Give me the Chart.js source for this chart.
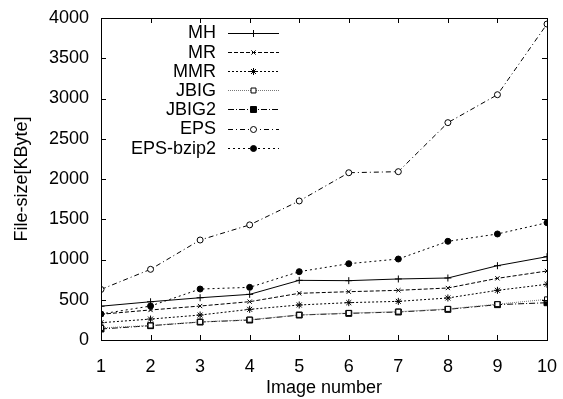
<!DOCTYPE html>
<html>
<head>
<meta charset="utf-8">
<script src="https://cdn.jsdelivr.net/npm/chart.js@4.4.0/dist/chart.umd.min.js"></script>
<style>
  html, body { margin: 0; padding: 0; background: #fff; }
  #wrap { width: 563px; height: 399px; }
</style>
</head>
<body>
<div id="wrap"><canvas id="sizeChart" width="563" height="399"></canvas></div>
<script>
const imageNumbers = [1, 2, 3, 4, 5, 6, 7, 8, 9, 10];
const yTicks = [0, 500, 1000, 1500, 2000, 2500, 3000, 3500, 4000];

const mhData       = [420, 475, 525, 567, 741, 737, 758, 770, 923, 1035];
const mrData       = [320, 373, 422, 476, 580, 600, 617, 646, 766, 857];
const mmrData      = [215, 260, 310, 381, 435, 464, 480, 522, 617, 692];
const jbigData     = [150, 180, 225, 252, 312, 335, 352, 386, 445, 505];
const jbig2Data    = [137, 178, 223, 248, 310, 331, 348, 381, 439, 463];
const epsData      = [628, 878, 1242, 1430, 1727, 2078, 2091, 2700, 3047, 3925];
const epsBzip2Data = [323, 422, 633, 654, 849, 948, 1006, 1226, 1317, 1457];

const FONT = "'Liberation Sans', Arial, sans-serif";

function series(label, data, dash, style, radius, filled, color) {
    return {
        label: label,
        data: data,
        borderColor: color || '#000',
        borderWidth: 1,
        borderDash: dash,
        pointStyle: style,
        pointRadius: radius,
        pointBorderWidth: 1,
        pointBorderColor: '#000',
        pointBackgroundColor: filled ? '#000' : '#fff',
        fill: false,
        tension: 0
    };
}

// gnuplot-like frame with inward ticks and right-aligned legend
const framePlugin = {
    id: 'frame',
    afterDraw(chart) {
        const ctx = chart.ctx;
        const a = chart.chartArea;
        const xs = chart.scales.x, ys = chart.scales.y;
        ctx.save();
        ctx.strokeStyle = '#000';
        ctx.lineWidth = 1;
        ctx.setLineDash([]);
        ctx.strokeRect(a.left + 0.5, a.top + 0.5, a.right - a.left, a.bottom - a.top);
        ctx.beginPath();
        imageNumbers.forEach(v => {
            const px = Math.round(xs.getPixelForValue(v)) + 0.5;
            ctx.moveTo(px, a.bottom); ctx.lineTo(px, a.bottom - 5);
            ctx.moveTo(px, a.top); ctx.lineTo(px, a.top + 5);
        });
        yTicks.forEach(v => {
            const py = Math.round(ys.getPixelForValue(v)) + 0.5;
            ctx.moveTo(a.left, py); ctx.lineTo(a.left + 5, py);
            ctx.moveTo(a.right, py); ctx.lineTo(a.right - 5, py);
        });
        ctx.stroke();

        // legend
        ctx.font = '18px ' + FONT;
        ctx.textAlign = 'right';
        ctx.textBaseline = 'middle';
        chart.data.datasets.forEach((ds, i) => {
            const y = 32.5 + i * 19.2;
            ctx.fillStyle = '#000';
            ctx.fillText(ds.label, 216, y + 1);
            ctx.strokeStyle = ds.borderColor;
            ctx.setLineDash(ds.borderDash);
            ctx.beginPath();
            ctx.moveTo(228, Math.round(y) + 0.5);
            ctx.lineTo(279, Math.round(y) + 0.5);
            ctx.stroke();
            ctx.setLineDash([]);
            ctx.strokeStyle = '#000';
            ctx.fillStyle = ds.pointBackgroundColor;
            Chart.helpers.drawPoint(ctx, {
                pointStyle: ds.pointStyle,
                radius: ds.pointRadius,
                rotation: 0,
                borderWidth: 1
            }, 253.5, Math.round(y) + 0.5);
        });
        ctx.restore();
    }
};

new Chart(document.getElementById('sizeChart').getContext('2d'), {
    type: 'line',
    data: {
        labels: imageNumbers,
        datasets: [
            series('MH', mhData, [], 'cross', 3.5, false),
            series('MR', mrData, [4, 2], 'crossRot', 3, false),
            series('MMR', mmrData, [2, 2], 'star', 3.5, false),
            series('JBIG', jbigData, [1, 1], 'rect', 3.5, false, '#777'),
            series('JBIG2', jbig2Data, [6, 2, 1, 2], 'rect', 4.2, true),
            series('EPS', epsData, [5, 3, 1, 3], 'circle', 3, false),
            series('EPS-bzip2', epsBzip2Data, [2, 3], 'circle', 3, true)
        ]
    },
    options: {
        responsive: false,
        animation: false,
        layout: { padding: { top: 18, right: 16, left: 11, bottom: 0 } },
        plugins: {
            legend: { display: false },
            tooltip: { enabled: false }
        },
        scales: {
            x: {
                type: 'linear',
                min: 1,
                max: 10,
                grid: { display: false, drawTicks: false },
                border: { display: false },
                afterBuildTicks: s => { s.ticks = imageNumbers.map(v => ({ value: v })); },
                afterFit: s => { s.height = 59; s.paddingLeft = 0; s.paddingRight = 0; },
                ticks: {
                    color: '#000',
                    padding: 16,
                    maxRotation: 0,
                    font: { family: FONT, size: 18 }
                },
                title: {
                    display: true,
                    text: 'Image number',
                    color: '#000',
                    padding: { top: 2, bottom: 0 },
                    font: { family: FONT, size: 18 }
                }
            },
            y: {
                min: 0,
                max: 4000,
                grid: { display: false, drawTicks: false },
                border: { display: false },
                afterBuildTicks: s => { s.ticks = yTicks.map(v => ({ value: v })); },
                afterFit: s => { s.width = 90; s.paddingTop = 0; s.paddingBottom = 0; },
                ticks: {
                    color: '#000',
                    padding: 12,
                    callback: v => String(v),
                    font: { family: FONT, size: 18 }
                },
                title: {
                    display: true,
                    text: 'File-size[KByte]',
                    color: '#000',
                    padding: { top: 0, bottom: 4 },
                    font: { family: FONT, size: 18 }
                }
            }
        }
    },
    plugins: [framePlugin]
});
</script>
</body>
</html>
